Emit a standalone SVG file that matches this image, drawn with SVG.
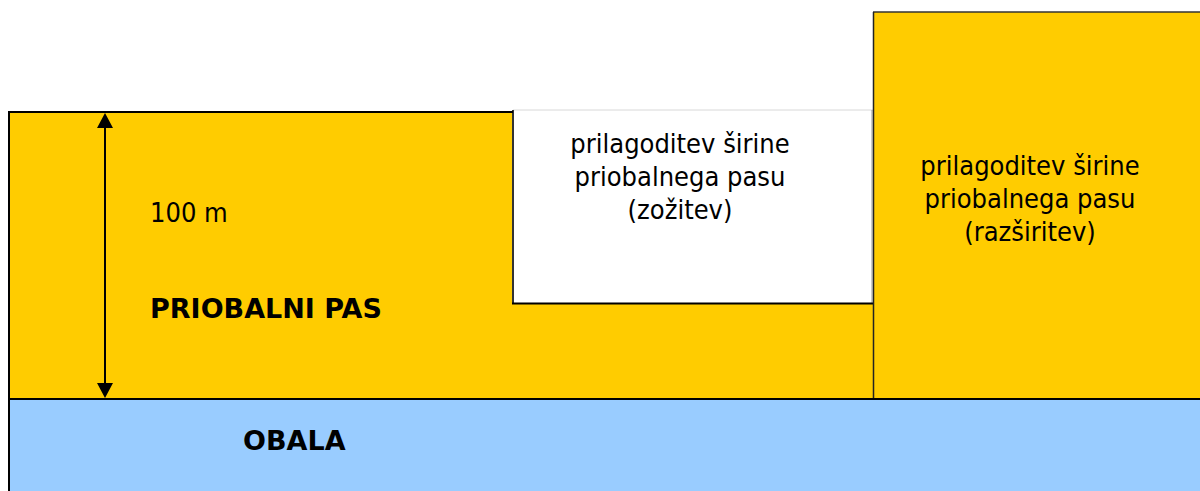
<svg xmlns="http://www.w3.org/2000/svg" width="1200" height="491" viewBox="0 0 1200 491">
<defs>
<style>
.y{fill:#FFCC00}
.b{fill:#99CCFF}
.ln{stroke:#000;stroke-width:2;fill:none}
.t{font-family:"DejaVu Sans Condensed","DejaVu Sans",sans-serif;font-size:27px;fill:#000}
.bt{font-family:"DejaVu Sans",Verdana,sans-serif;font-size:27px;font-weight:bold;fill:#000}
.c{text-anchor:middle}
</style>
</defs>
<rect width="1200" height="491" fill="#fff"/>
<g id="priobalni-pas">
<rect class="y" x="9" y="112" width="865" height="287"/>
<text class="t" x="150" y="222">100 m</text>
<text class="bt" x="150" y="318">PRIOBALNI PAS</text>
</g>
<g id="zozitev">
<rect x="513" y="110" width="360" height="194" fill="#fff"/>
<line x1="513" y1="110" x2="873" y2="110" stroke="#d8d8d8" stroke-width="1"/>
<line x1="513" y1="110" x2="513" y2="304" stroke="#333" stroke-width="2"/>
<line x1="872" y1="110" x2="872" y2="304" stroke="#999" stroke-width="1"/>
<line class="ln" x1="512" y1="303.5" x2="874" y2="303.5"/>
<text class="t c" x="680" y="153">prilagoditev širine</text>
<text class="t c" x="680" y="186">priobalnega pasu</text>
<text class="t c" x="680" y="219">(zožitev)</text>
</g>
<g id="razsiritev">
<rect class="y" x="873" y="12" width="327" height="387"/>
<line x1="873" y1="12" x2="1200" y2="12" stroke="#333" stroke-width="1.5"/>
<line x1="873.5" y1="12" x2="873.5" y2="400" stroke="#222" stroke-width="1.5"/>
<text class="t c" x="1030" y="175">prilagoditev širine</text>
<text class="t c" x="1030" y="208">priobalnega pasu</text>
<text class="t c" x="1030" y="241">(razširitev)</text>
</g>
<g id="obala">
<rect class="b" x="9" y="399" width="1191" height="92"/>
<text class="bt" x="243" y="450">OBALA</text>
</g>
<g id="borders">
<line class="ln" x1="8" y1="112" x2="513" y2="112"/>
<line class="ln" x1="9" y1="111" x2="9" y2="491"/>
<line class="ln" x1="8" y1="399" x2="1200" y2="399"/>
</g>
<g id="connectors">
<line x1="105" y1="126" x2="105" y2="385" stroke="#000" stroke-width="2"/>
<path d="M105,113 L97,128 L113,128 Z" fill="#000"/>
<path d="M105,398 L97,383 L113,383 Z" fill="#000"/>
</g>
</svg>
